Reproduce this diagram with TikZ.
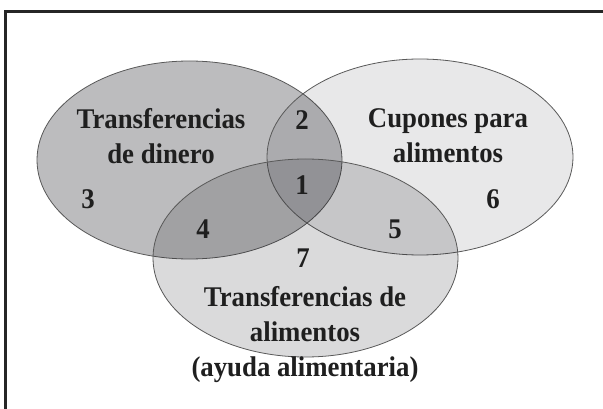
\documentclass[tikz,border=0pt]{standalone}
\usepackage{fontspec}
\setmainfont{Liberation Serif}[FakeStretch=0.94]
\usetikzlibrary{shapes.geometric}
\definecolor{shade}{rgb}{0.03,0.03,0.06}
\begin{document}
\begin{tikzpicture}[x=1pt,y=-1pt,
  set/.style={ellipse, draw=black!65, line width=0.8pt, fill=shade, inner sep=0pt, outer sep=0pt},
  lbl/.style={font=\fontsize{28.5}{35}\selectfont\bfseries, text=black!88, align=center, inner sep=0pt, anchor=base},
  num/.style={font=\fontsize{28.5}{35}\selectfont\bfseries, text=black!88, inner sep=0pt, anchor=base}]
\useasboundingbox (0,0) rectangle (603,409);
\clip (0,0) rectangle (603,409);
\fill[white] (0,0) rectangle (603,409);
\draw[line width=2.5pt, draw=black!85] (5.3,11.3) rectangle (640,440);
% sets
\node[set, fill opacity=0.27, minimum width=305pt, minimum height=198pt] (dinero) at (189.5,160) {};
\node[set, fill opacity=0.09, minimum width=306pt, minimum height=196pt] (cupones) at (420,157) {};
\node[set, fill opacity=0.15, minimum width=305pt, minimum height=198pt] (alimentos) at (305.5,258) {};
% labels (anchored at the baseline of the last line)
\node[lbl] (ldin) at (161,164) {Transferencias\\de dinero};
\node[lbl] (lcup) at (448,163) {Cupones para\\alimentos};
\node[lbl] (lali) at (305,376) {Transferencias de\\alimentos\\(ayuda alimentaria)};
\node[num] (n1) at (302,195) {1};
\node[num] (n2) at (302,130) {2};
\node[num] (n3) at (88,208) {3};
\node[num] (n4) at (203,238) {4};
\node[num] (n5) at (395,238) {5};
\node[num] (n6) at (493,208) {6};
\node[num] (n7) at (303,267) {7};
\end{tikzpicture}
\end{document}
